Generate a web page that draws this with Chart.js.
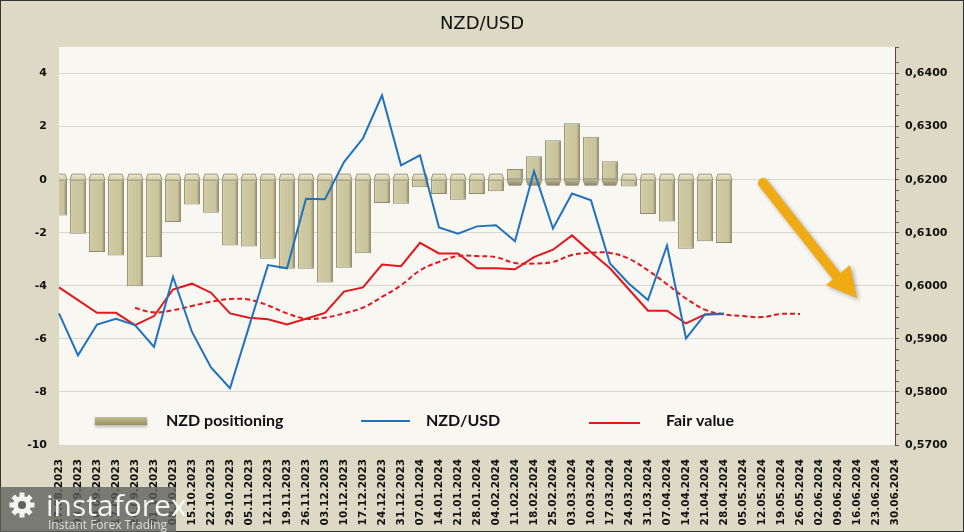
<!DOCTYPE html>
<html>
<head>
<meta charset="utf-8">
<script src="https://cdn.jsdelivr.net/npm/chart.js@4.4.1/dist/chart.umd.min.js"></script>
<style>
  html, body { margin: 0; padding: 0; background: #dcd9c4; }
  canvas { display: block; }
</style>
</head>
<body>
<canvas id="chart" width="964" height="532"></canvas>
<script>
  "use strict";

  const weeks = [
    "27.08.2023", "03.09.2023", "10.09.2023", "17.09.2023", "24.09.2023", "01.10.2023",
    "08.10.2023", "15.10.2023", "22.10.2023", "29.10.2023", "05.11.2023", "12.11.2023",
    "19.11.2023", "26.11.2023", "03.12.2023", "10.12.2023", "17.12.2023", "24.12.2023",
    "31.12.2023", "07.01.2024", "14.01.2024", "21.01.2024", "28.01.2024", "04.02.2024",
    "11.02.2024", "18.02.2024", "25.02.2024", "03.03.2024", "10.03.2024", "17.03.2024",
    "24.03.2024", "31.03.2024", "07.04.2024", "14.04.2024", "21.04.2024", "28.04.2024",
    "05.05.2024", "12.05.2024", "19.05.2024", "26.05.2024", "02.06.2024", "09.06.2024",
    "16.06.2024", "23.06.2024", "30.06.2024",
  ];

  // net positioning (left axis)
  const positioning = [
    -1.35, -2.04, -2.73, -2.86, -4.02, -2.92, -1.6, -0.94, -1.25, -2.48, -2.52, -2.98,
    -3.36, -3.36, -3.88, -3.32, -2.77, -0.88, -0.91, -0.29, -0.54, -0.76, -0.54, -0.44,
    0.4, 0.88, 1.49, 2.13, 1.62, 0.69, -0.26, -1.29, -1.58, -2.6, -2.32, -2.39,
    null, null, null, null, null, null, null, null, null,
  ];

  // right axis
  const nzdusd = [
    0.5948, 0.5869, 0.5927, 0.5938, 0.5926, 0.5885, 0.6017, 0.5913, 0.5846, 0.5807, 0.5923, 0.6039,
    0.6033, 0.6164, 0.6163, 0.6233, 0.6278, 0.6359, 0.6227, 0.6246, 0.611, 0.6098, 0.6112, 0.6114,
    0.6084, 0.6216, 0.6108, 0.6174, 0.6161, 0.6042, 0.6004, 0.5973, 0.6076, 0.5901, 0.5946, 0.5948,
    null, null, null, null, null, null, null, null, null,
  ];

  const fairValue = [
    0.5997, 0.5973, 0.5949, 0.5949, 0.5926, 0.5943, 0.5993, 0.6004, 0.5987, 0.5948, 0.594, 0.5937,
    0.5927, 0.5938, 0.5949, 0.5989, 0.5997, 0.604, 0.6037, 0.6081, 0.6061, 0.6061, 0.6033, 0.6033,
    0.6031, 0.6054, 0.6068, 0.6095, 0.6063, 0.6033, 0.5993, 0.5953, 0.5953, 0.5929, 0.5946, 0.5947,
    null, null, null, null, null, null, null, null, null,
  ];

  const fairTrend = [
    null, null, null, null, 0.5958, 0.595, 0.5954, 0.5962, 0.597, 0.5975, 0.5974, 0.5963,
    0.5948, 0.5938, 0.594, 0.5948, 0.5959, 0.5979, 0.6001, 0.6029, 0.6045, 0.6056, 0.6056, 0.6054,
    0.6043, 0.6042, 0.6045, 0.6058, 0.6062, 0.6062, 0.6051, 0.6029, 0.6003, 0.5976, 0.5955, 0.5946,
    0.5943, 0.5941, 0.5947, 0.5947, null, null, null, null, null,
  ];

  const leftTicks = {min: -10, max: 5, step: 2};
  const rightTicks = {min: 0.57, max: 0.645, step: 0.002};

  const BEIGE = "#dcd9c4";
  const PLOT_BG = "#f8f7f2";
  const BLUE = "#2271bd";
  const RED = "#e3161c";
  const TICK_FONT = {family: "DejaVu Sans", size: 11, weight: "bold"};
  const BAR_INDEX = 3;

  function barFill(ctx) {
    const chart = ctx.chart;
    if (ctx.type !== "data" || !chart.chartArea) return "#cdc7a0";
    const x = chart.scales.x.getPixelForValue(ctx.dataIndex);
    const g = chart.ctx.createLinearGradient(x - 8, 0, x + 8, 0);
    g.addColorStop(0, "#ddd8b6");
    g.addColorStop(0.15, "#d0caa3");
    g.addColorStop(0.8, "#c9c39b");
    g.addColorStop(1, "#858062");
    return g;
  }

  const backdrop = {
    id: "backdrop",
    beforeDraw(chart) {
      const {ctx, chartArea: a, width, height} = chart;
      ctx.save();
      ctx.fillStyle = BEIGE;
      ctx.fillRect(0, 0, width, height);
      ctx.fillStyle = PLOT_BG;
      ctx.fillRect(a.left, a.top, a.right - a.left, a.bottom - a.top);
      ctx.fillStyle = "#111";
      ctx.font = "18px 'DejaVu Sans'";
      ctx.textAlign = "center";
      ctx.textBaseline = "middle";
      ctx.fillText("NZD/USD", width / 2, 24);
      ctx.strokeStyle = "#333";
      ctx.lineWidth = 1;
      ctx.strokeRect(0.5, 0.5, width - 1, height - 1);
      ctx.restore();
    },
  };

  // bevelled cap on the base end of each bar, like the 3D bars of the source
  const barCaps = {
    id: "barCaps",
    afterDatasetDraw(chart, args) {
      if (args.index !== BAR_INDEX) return;
      const ctx = chart.ctx;
      const a = chart.chartArea;
      ctx.save();
      ctx.beginPath();
      ctx.rect(a.left, a.top, a.right - a.left, a.bottom - a.top);
      ctx.clip();
      args.meta.data.forEach((el, i) => {
        const v = positioning[i];
        if (v == null) return;
        const w = el.width;
        const left = el.x - w / 2;
        const up = v < 0;
        const y0 = up ? el.base - 6 : el.base;
        const g = ctx.createLinearGradient(0, y0, 0, y0 + 6);
        if (up) {
          g.addColorStop(0, "#eeead0");
          g.addColorStop(1, "#d2cca6");
        } else {
          g.addColorStop(0, "#c4be96");
          g.addColorStop(1, "#8a8566");
        }
        ctx.fillStyle = g;
        ctx.beginPath();
        if (up) {
          ctx.moveTo(left + 2, y0);
          ctx.lineTo(left + w - 2, y0);
          ctx.lineTo(left + w, y0 + 6);
          ctx.lineTo(left, y0 + 6);
        } else {
          ctx.moveTo(left, y0);
          ctx.lineTo(left + w, y0);
          ctx.lineTo(left + w - 2, y0 + 6);
          ctx.lineTo(left + 2, y0 + 6);
        }
        ctx.closePath();
        ctx.fill();
        ctx.strokeStyle = "#9b967a";
        ctx.lineWidth = 1;
        ctx.stroke();
      });
      ctx.restore();
    },
  };

  const decorations = {
    id: "decorations",
    afterDatasetsDraw(chart) {
      const ctx = chart.ctx;
      // trend arrow
      ctx.save();
      ctx.shadowColor = "rgba(0,0,0,0.3)";
      ctx.shadowBlur = 4;
      ctx.shadowOffsetX = 2;
      ctx.shadowOffsetY = 2;
      ctx.strokeStyle = "#f0aa14";
      ctx.fillStyle = "#f0aa14";
      ctx.lineWidth = 10;
      ctx.lineCap = "round";
      ctx.beginPath();
      ctx.moveTo(763, 183);
      ctx.lineTo(838, 278);
      ctx.stroke();
      ctx.beginPath();
      ctx.moveTo(857, 298);
      ctx.lineTo(826, 285);
      ctx.lineTo(850, 265);
      ctx.closePath();
      ctx.fill();
      ctx.restore();
    },
    afterDraw(chart) {
      const ctx = chart.ctx;
      ctx.save();
      // legend
      const y = 421;
      const g = ctx.createLinearGradient(0, y - 4, 0, y + 5);
      g.addColorStop(0, "#c3bd92");
      g.addColorStop(1, "#8f8a62");
      ctx.shadowColor = "rgba(0,0,0,0.25)";
      ctx.shadowBlur = 3;
      ctx.shadowOffsetY = 2;
      ctx.fillStyle = g;
      ctx.fillRect(95, y - 4, 52, 8);
      ctx.shadowColor = "transparent";
      ctx.lineWidth = 2;
      ctx.strokeStyle = BLUE;
      ctx.beginPath();
      ctx.moveTo(361, y);
      ctx.lineTo(410, y);
      ctx.stroke();
      ctx.strokeStyle = RED;
      ctx.beginPath();
      ctx.moveTo(589, y + 2);
      ctx.lineTo(640, y + 2);
      ctx.stroke();
      ctx.fillStyle = "#111";
      ctx.font = "bold 16px Lato";
      ctx.textBaseline = "middle";
      ctx.textAlign = "left";
      ctx.fillText("NZD positioning", 166, y);
      ctx.fillText("NZD/USD", 426, y);
      ctx.fillText("Fair value", 666, y);

      // watermark
      ctx.fillStyle = "rgba(95,95,95,0.78)";
      ctx.fillRect(0, 487, 176, 45);
      ctx.fillStyle = "rgba(255,255,255,0.9)";
      ctx.beginPath();
      ctx.arc(22, 505, 9, 0, Math.PI * 2);
      ctx.fill();
      for (let i = 0; i < 8; i++) {
        const a = (i * Math.PI) / 4;
        ctx.save();
        ctx.translate(22 + Math.cos(a) * 10, 505 + Math.sin(a) * 10);
        ctx.rotate(a);
        ctx.fillRect(-2.5, -2.5, 5, 5);
        ctx.restore();
      }
      ctx.fillStyle = "rgba(95,95,95,1)";
      ctx.beginPath();
      ctx.arc(22, 505, 4, 0, Math.PI * 2);
      ctx.fill();
      ctx.fillStyle = "rgba(255,255,255,0.92)";
      ctx.font = "30px 'Open Sans'";
      ctx.textAlign = "left";
      ctx.textBaseline = "alphabetic";
      ctx.fillText("instaforex", 46, 516);
      ctx.fillStyle = "rgba(230,230,230,0.9)";
      ctx.font = "12px 'Open Sans'";
      ctx.fillText("Instant Forex Trading", 48, 529);
      ctx.restore();
    },
  };

  new Chart(document.getElementById("chart"), {
    data: {
      labels: weeks,
      datasets: [
        {
          type: "line",
          label: "NZD/USD",
          data: nzdusd,
          yAxisID: "y2",
          borderColor: BLUE,
          borderWidth: 2,
          pointRadius: 0,
          tension: 0,
          order: 1,
        },
        {
          type: "line",
          label: "Fair value",
          data: fairValue,
          yAxisID: "y2",
          borderColor: RED,
          borderWidth: 2,
          pointRadius: 0,
          tension: 0,
          order: 2,
        },
        {
          type: "line",
          label: "Fair value trend",
          data: fairTrend,
          yAxisID: "y2",
          borderColor: RED,
          borderWidth: 2,
          borderDash: [5, 3],
          pointRadius: 0,
          tension: 0.4,
          order: 3,
        },
        {
          type: "bar",
          label: "NZD positioning",
          data: positioning,
          yAxisID: "y",
          backgroundColor: barFill,
          borderColor: "#8f8a6c",
          borderWidth: 1,
          borderSkipped: false,
          barPercentage: 0.85,
          categoryPercentage: 1,
          order: 10,
        },
      ],
    },
    options: {
      responsive: false,
      animation: false,
      layout: {padding: {top: 47, left: 0, right: 0, bottom: 0}},
      plugins: {
        legend: {display: false},
        title: {display: false},
        tooltip: {enabled: false},
      },
      scales: {
        x: {
          type: "category",
          offset: false,
          grid: {display: false, offset: false},
          border: {display: false},
          ticks: {
            autoSkip: false,
            minRotation: 90,
            maxRotation: 90,
            padding: 6,
            color: "#111",
            font: {family: "DejaVu Sans", size: 10.5, weight: "bold"},
          },
          afterFit(scale) { scale.height = 87; },
        },
        y: {
          position: "left",
          min: leftTicks.min,
          max: leftTicks.max,
          ticks: {
            stepSize: leftTicks.step,
            padding: 12,
            color: "#111",
            font: TICK_FONT,
            callback: (v) => (v > 4 ? "" : String(v)),
          },
          grid: {
            drawTicks: false,
            color: (c) => (c.tick && c.tick.value > 4 ? "rgba(0,0,0,0)" : "#d9d7ce"),
          },
          border: {display: false},
          afterFit(scale) { scale.width = 59; },
        },
        y2: {
          position: "right",
          min: rightTicks.min,
          max: rightTicks.max,
          ticks: {
            stepSize: rightTicks.step,
            autoSkip: false,
            padding: 6,
            color: "#111",
            font: TICK_FONT,
            callback: (v) => (Math.round(v * 1000) % 10 === 0 ? v.toFixed(4).replace(".", ",") : ""),
          },
          grid: {
            drawOnChartArea: false,
            tickLength: 4,
            tickColor: "#6a5a4a",
          },
          border: {display: true, color: "#5b4636", width: 1},
          afterFit(scale) { scale.width = 69; },
        },
      },
    },
    plugins: [backdrop, barCaps, decorations],
  });
</script>
</body>
</html>
